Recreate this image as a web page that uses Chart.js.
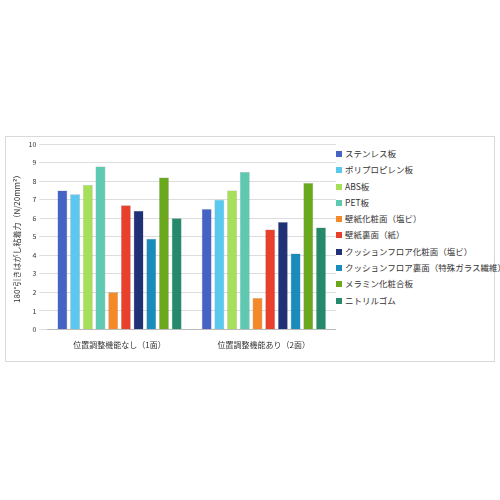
<!DOCTYPE html><html><head><meta charset="utf-8">
<script src="https://cdn.jsdelivr.net/npm/chart.js@4"></script>
<style>body{margin:0;background:#fff;font-family:'Noto Sans CJK JP',sans-serif}
#w{position:absolute;left:5px;top:136px;width:490px;height:226px;border:1px solid #d9d9d9;box-sizing:border-box}
#cw{position:absolute;left:0;top:0;width:330px;height:224px}
#lg{position:absolute;left:330px;top:8px;font-size:8.5px;color:#333;line-height:16.3px;white-space:nowrap}
#lg span{display:inline-block;width:6px;height:6px;margin-right:3px;vertical-align:0px}</style></head><body>
<div id="w"><div id="cw"><canvas id="c"></canvas></div><div id="lg"></div></div>
<script>
const categories=["位置調整機能なし（1面）","位置調整機能あり（2面）"];
const seriesNames=["ステンレス板","ポリプロピレン板","ABS板","PET板","壁紙化粧面（塩ビ）","壁紙裏面（紙）","クッションフロア化粧面（塩ビ）","クッションフロア裏面（特殊ガラス繊維）","メラミン化粧合板","ニトリルゴム"];
const values1=[7.5,7.3,7.8,8.8,2.0,6.7,6.4,4.9,8.2,6.0];
const values2=[6.5,7.0,7.5,8.5,1.7,5.4,5.8,4.1,7.9,5.5];
const colors=["#4463c4","#5bc8ef","#a6e05a","#5cc9b0","#f5892a","#e8402a","#1f3278","#1a8cbc","#6aa91e","#258a6c"];
const F="'Noto Sans CJK JP','Noto Sans',sans-serif";
document.getElementById('lg').innerHTML=seriesNames.map((n,i)=>`<div><span style="background:${colors[i]}"></span>${n}</div>`).join('');
new Chart(document.getElementById('c'),{type:'bar',
data:{labels:categories,datasets:seriesNames.map((n,i)=>({label:n,data:[values1[i],values2[i]],backgroundColor:colors[i],borderColor:'rgba(0,0,0,0.35)',borderWidth:0.5}))},
options:{responsive:true,maintainAspectRatio:false,animation:false,
layout:{padding:{top:6,bottom:8,left:2,right:0}},
datasets:{bar:{categoryPercentage:0.88,barPercentage:0.78}},
plugins:{legend:{display:false},tooltip:{enabled:false}},
scales:{x:{grid:{display:false},border:{color:'#bbb'},ticks:{font:{size:8,family:F},color:'#333'}},
y:{min:0,max:10,ticks:{stepSize:1,font:{size:7,family:F},color:'#333'},grid:{color:'#ddd'},border:{display:false},
title:{display:true,text:'180°引きはがし粘着力（N/20mm²）',font:{size:8,family:F},color:'#333'}}}}});
</script></body></html>
